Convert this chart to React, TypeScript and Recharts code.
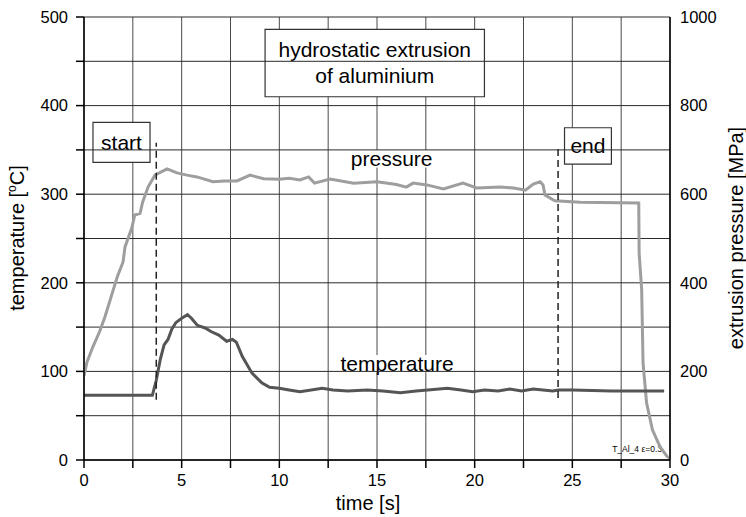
import React from 'react';
import {
  ComposedChart,
  Line,
  XAxis,
  YAxis,
  CartesianGrid,
  ReferenceLine,
  ReferenceArea,
} from 'recharts';

const FONT = '"Liberation Sans", Arial, Helvetica, sans-serif';

const timeTicks = [0, 2.5, 5, 7.5, 10, 12.5, 15, 17.5, 20, 22.5, 25, 27.5, 30];
const temperatureTicks = [0, 50, 100, 150, 200, 250, 300, 350, 400, 450, 500];
const pressureTicks = [0, 100, 200, 300, 400, 500, 600, 700, 800, 900, 1000];

// [time s, temperature °C]
const temperaturePoints: [number, number][] = [
  [0, 73], [3.5, 73], [3.7, 90], [3.9, 113], [4.1, 130], [4.3, 136], [4.5, 148],
  [4.7, 155], [5.0, 160], [5.3, 164], [5.5, 160], [5.8, 152], [6.2, 149],
  [6.5, 145], [6.9, 141], [7.3, 134], [7.6, 136], [7.8, 133], [8.1, 117],
  [8.6, 98], [9.1, 87], [9.5, 82], [10, 81], [10.5, 79], [11.06, 77],
  [12.2, 81], [12.75, 79], [13.5, 78], [14.5, 79], [15.3, 78], [16.2, 76],
  [17, 78], [17.6, 79], [18.6, 81], [19.3, 79], [19.9, 77], [20.5, 79],
  [21.2, 78], [21.8, 80], [22.4, 78], [23, 80], [23.5, 79], [24, 78],
  [24.3, 79], [25, 79], [27, 78], [29.7, 78],
];

// [time s, pressure MPa]
const pressurePoints: [number, number][] = [
  [0, 190], [0.15, 221], [0.45, 255], [0.8, 290], [1.07, 323], [1.4, 370],
  [1.7, 413], [2.0, 447], [2.1, 481], [2.45, 524], [2.6, 553], [2.87, 557],
  [3.0, 582], [3.28, 616], [3.63, 643], [4.25, 657], [4.76, 648], [5.27, 643],
  [5.78, 639], [6.6, 628], [7.2, 630], [7.83, 630], [8.5, 643], [9.2, 635],
  [10, 634], [10.5, 636], [11.06, 632], [11.5, 639], [11.8, 625], [12.6, 634],
  [13.8, 625], [15, 628], [16, 622], [16.5, 616], [16.85, 625], [17.55, 621],
  [18.4, 612], [19.4, 625], [20.1, 614], [21.3, 616], [22, 614], [22.6, 609],
  [23, 623], [23.35, 628], [23.5, 621], [23.6, 598], [24.1, 585], [25.4, 582],
  [28.4, 580], [28.42, 467], [28.55, 384], [28.62, 219], [28.8, 129],
  [29.1, 68], [29.5, 29], [29.85, 8], [30, 4],
];

const temperatureData = temperaturePoints.map(([time, temperature]) => ({ time, temperature }));
const pressureData = pressurePoints.map(([time, pressure]) => ({ time, pressure }));

const BoxText = (props: any) => {
  const { viewBox, lines, fontSize = 21, firstOffset, lineGap = 26 } = props;
  if (!viewBox) return null;
  const cx = viewBox.x + viewBox.width / 2;
  const n = lines.length;
  const startY =
    firstOffset !== undefined
      ? viewBox.y + firstOffset
      : viewBox.y + viewBox.height / 2 - ((n - 1) * lineGap) / 2;
  return (
    <g>
      {lines.map((l: string, i: number) => (
        <text
          key={i}
          x={cx}
          y={startY + i * lineGap}
          dy="0.35em"
          textAnchor="middle"
          fontFamily={FONT}
          fontSize={fontSize}
          fill="#000"
        >
          {l}
        </text>
      ))}
    </g>
  );
};

const tickStyle = { fill: '#000', fontSize: 16.5, fontFamily: FONT };
const ANN = 21;
const blank = () => '';

export default function App() {
  return (
    <div style={{ position: 'absolute', left: 0, top: 0, width: 746, height: 517, background: '#fff' }}>
      <ComposedChart
        width={746}
        height={517}
        margin={{ top: 17, right: 20, bottom: 17, left: 24 }}
      >
        <CartesianGrid yAxisId="left" horizontal={false} stroke="#4a4a4a" strokeWidth={1} />
        {temperatureTicks.map((v) => (
          <ReferenceLine key={'h' + v} yAxisId="left" y={v} stroke="#2a2a2a" strokeWidth={1} />
        ))}
        <XAxis
          dataKey="time"
          type="number"
          domain={[0, 30]}
          ticks={timeTicks}
          interval={0}
          height={40}
          tickSize={8}
          tickMargin={6}
          tick={tickStyle}
          tickFormatter={(v: number) => (v % 5 === 0 ? String(v) : '')}
          axisLine={{ stroke: '#000', strokeWidth: 1.5 }}
          tickLine={{ stroke: '#000', strokeWidth: 1.5 }}
          allowDataOverflow
        />
        <XAxis
          xAxisId="top"
          orientation="top"
          type="number"
          domain={[0, 30]}
          ticks={timeTicks}
          interval={0}
          height={0}
          mirror
          tickSize={6}
          tick={{ fontSize: 1, fill: 'none' }}
          tickFormatter={blank}
          axisLine={{ stroke: '#000', strokeWidth: 1.5 }}
          tickLine={{ stroke: '#000', strokeWidth: 1.5 }}
        />
        <YAxis
          yAxisId="left"
          type="number"
          domain={[0, 500]}
          ticks={temperatureTicks}
          interval={0}
          width={60}
          tickSize={8}
          tickMargin={8}
          tick={tickStyle}
          tickFormatter={(v: number) => (v % 100 === 0 ? String(v) : '')}
          axisLine={{ stroke: '#000', strokeWidth: 1.5 }}
          tickLine={{ stroke: '#000', strokeWidth: 1.5 }}
        />
        <YAxis
          yAxisId="right"
          orientation="right"
          type="number"
          domain={[0, 1000]}
          ticks={pressureTicks}
          interval={0}
          width={56}
          tickSize={5}
          tickMargin={5}
          tick={tickStyle}
          tickFormatter={(v: number) => (v % 200 === 0 ? String(v) : '')}
          axisLine={{ stroke: '#000', strokeWidth: 1.5 }}
          tickLine={false}
        />
        <YAxis
          yAxisId="rightIn"
          orientation="right"
          type="number"
          domain={[0, 1000]}
          ticks={pressureTicks}
          interval={0}
          width={0}
          mirror
          tickSize={6}
          tick={{ fontSize: 1, fill: 'none' }}
          tickFormatter={blank}
          axisLine={false}
          tickLine={{ stroke: '#000', strokeWidth: 1.5 }}
        />

        <Line
          yAxisId="right"
          data={pressureData}
          dataKey="pressure"
          type="linear"
          stroke="#9e9e9e"
          strokeWidth={3}
          dot={false}
          activeDot={false}
          isAnimationActive={false}
        />
        <Line
          yAxisId="left"
          data={temperatureData}
          dataKey="temperature"
          type="linear"
          stroke="#555555"
          strokeWidth={3}
          dot={false}
          activeDot={false}
          isAnimationActive={false}
        />

        <ReferenceLine
          yAxisId="left"
          segment={[{ x: 3.7, y: 68 }, { x: 3.7, y: 358 }]}
          stroke="#222"
          strokeWidth={1.5}
          strokeDasharray="7 4"
        />
        <ReferenceLine
          yAxisId="left"
          segment={[{ x: 24.27, y: 70 }, { x: 24.27, y: 355 }]}
          stroke="#222"
          strokeWidth={1.5}
          strokeDasharray="7 4"
        />

        <ReferenceArea
          yAxisId="left"
          x1={9.27}
          x2={20.5}
          y1={410}
          y2={486}
          fill="#fff"
          fillOpacity={1}
          stroke="#333"
          strokeWidth={1.2}
          label={<BoxText lines={['hydrostatic extrusion', 'of aluminium']} fontSize={ANN} firstOffset={20} lineGap={26} />}
        />
        <ReferenceArea
          yAxisId="left"
          x1={0.46}
          x2={3.38}
          y1={336}
          y2={381}
          fill="#fff"
          fillOpacity={1}
          stroke="#333"
          strokeWidth={1.2}
          label={<BoxText lines={['start']} fontSize={ANN} />}
        />
        <ReferenceArea
          yAxisId="left"
          x1={24.6}
          x2={27.0}
          y1={334}
          y2={375}
          fill="#fff"
          fillOpacity={1}
          stroke="#333"
          strokeWidth={1.2}
          label={<BoxText lines={['end']} fontSize={ANN} />}
        />
        <ReferenceArea
          yAxisId="left"
          x1={13.6}
          x2={17.9}
          y1={330}
          y2={350}
          fill="#fff"
          fillOpacity={1}
          stroke="none"
          label={<BoxText lines={['pressure']} fontSize={ANN} />}
        />
        <ReferenceArea
          yAxisId="left"
          x1={12.95}
          x2={19.1}
          y1={99}
          y2={118.5}
          fill="#fff"
          fillOpacity={1}
          stroke="none"
          label={<BoxText lines={['temperature']} fontSize={ANN} />}
        />

        <text
          transform="translate(17, 238) rotate(-90)"
          dy="0.35em"
          textAnchor="middle"
          fontFamily={FONT}
          fontSize={20}
          fill="#000"
        >
          temperature [<tspan fontSize={12} dy={-8}>o</tspan>
          <tspan dy={8}>C]</tspan>
        </text>
        <text
          transform="translate(736, 238) rotate(-90)"
          dy="0.35em"
          textAnchor="middle"
          fontFamily={FONT}
          fontSize={20}
          fill="#000"
        >
          extrusion pressure [MPa]
        </text>
        <text
          x={368}
          y={503}
          dy="0.35em"
          textAnchor="middle"
          fontFamily={FONT}
          fontSize={20}
          fill="#000"
        >
          time [s]
        </text>
        <text
          x={662}
          y={452}
          textAnchor="end"
          fontFamily={FONT}
          fontSize={8.5}
          fill="#000"
        >
          T_Al_4 ε=0.3
        </text>
      </ComposedChart>
    </div>
  );
}
